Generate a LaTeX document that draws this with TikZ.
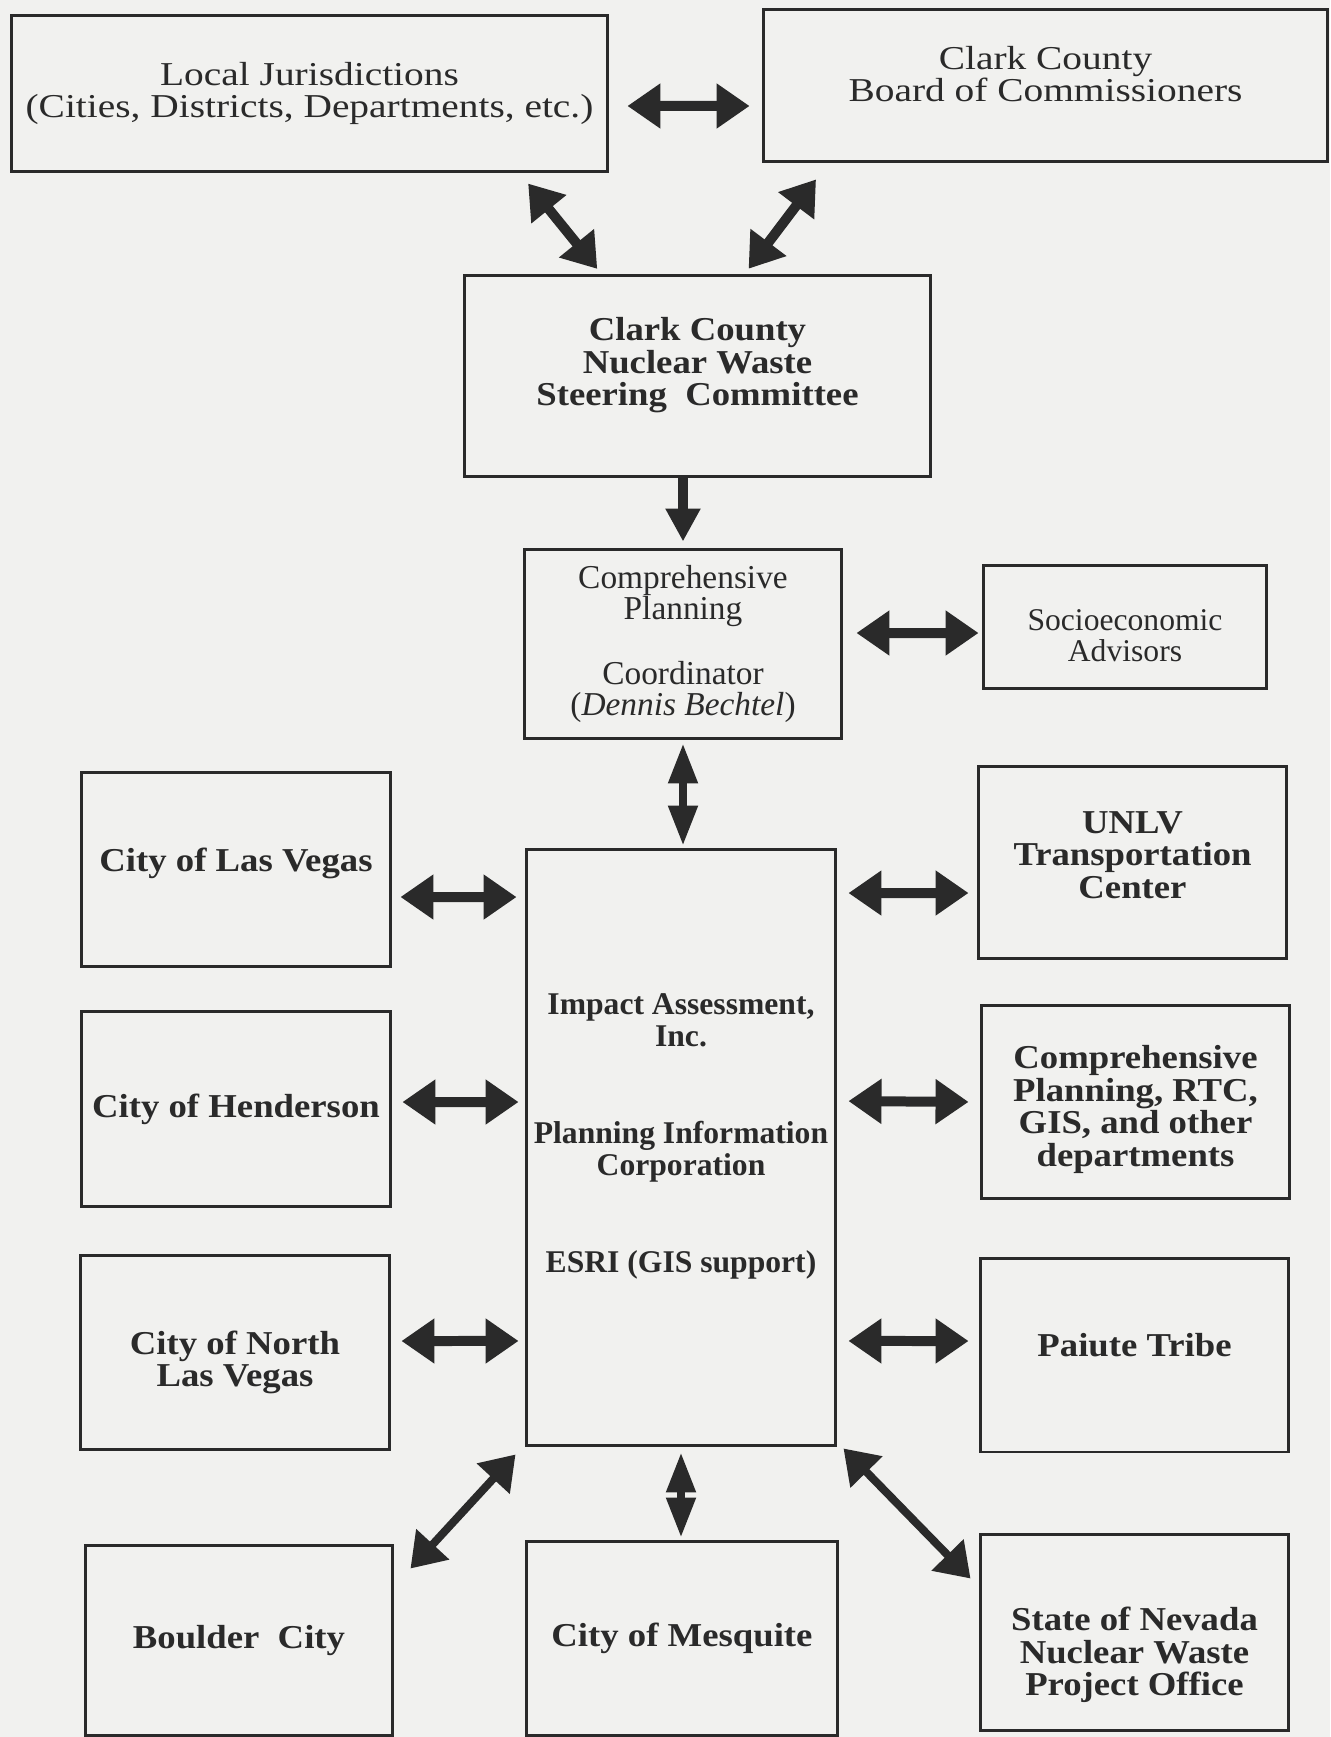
\documentclass[tikz,border=0pt]{standalone}
\usepackage{fontspec}
\setmainfont{Liberation Serif}
\newfontfamily\wideserif{Liberation Serif}[FakeStretch=1.1]
\newfontfamily\widerserif{Liberation Serif}[FakeStretch=1.18]
\usepackage{tikz}
\usetikzlibrary{arrows.meta}

\definecolor{paper}{RGB}{241,241,239}
\definecolor{ink}{RGB}{42,42,42}

% invisible struts that push a text block down or up inside its frame
\newcommand{\padtop}[1]{\rule{0pt}{#1}}
\newcommand{\padbot}[1]{\rule[-#1]{0pt}{#1}}

\begin{document}
\begin{tikzpicture}[x=0.02cm, y=-0.02cm,
    box/.style={draw=ink, line width=0.06cm, inner sep=0pt, align=center, text=ink}, % plain framed box
    plain/.style={font=\widerserif\fontsize{19}{18.5}\selectfont},          % regular text
    heavy/.style={font=\wideserif\fontsize{19}{18.5}\selectfont\bfseries}, % bold text
    dbl/.style={{Triangle[width=0.86cm,length=0.66cm]}-{Triangle[width=0.86cm,length=0.66cm]},
                line width=0.2cm, draw=ink},                    % two-way link
    slim/.style={{Triangle[width=0.56cm,length=0.8cm]}-{Triangle[width=0.56cm,length=0.8cm]},
                line width=0.16cm, draw=ink},                   % narrow vertical link
    down/.style={-{Triangle[width=0.66cm,length=0.66cm]}, line width=0.2cm, draw=ink}
    ]
    \fill[paper] (0,0) rectangle (1330,1737);
    \useasboundingbox (0,0) rectangle (1330,1737);

    % top level
    \node[box, plain, minimum width=11.94cm, minimum height=3.14cm] (loc) at (309.5,93.5)
        {Local Jurisdictions\\(Cities, Districts, Departments, etc.)};
    \node[box, plain, minimum width=11.30cm, minimum height=3.06cm] (brd) at (1045.5,85.5)
        {Clark County\\Board of Commissioners\padbot{0.46cm}};
    \node[box, heavy, minimum width=9.34cm, minimum height=4.04cm] (stc) at (697.5,376)
        {Clark County\\Nuclear Waste\\Steering\ \ Committee\padbot{0.58cm}};

    % coordinator and advisors
    \node[box, font=\fontsize{19}{18}\selectfont, minimum width=6.36cm, minimum height=3.80cm] (cpc) at (683,644)
        {Comprehensive\\Planning\\[0.66cm]Coordinator\\(\textit{Dennis Bechtel})};
    \node[box, font=\fontsize{18}{18}\selectfont, minimum width=5.68cm, minimum height=2.48cm] (soc) at (1125,627)
        {\padtop{0.77cm}Socioeconomic\\Advisors};

    % consultants
    \node[box, font=\fontsize{18}{18}\selectfont\bfseries, minimum width=6.20cm, minimum height=11.94cm] (ctr) at (681,1147.5)
        {Impact Assessment,\\Inc.\\[1.32cm]Planning Information\\Corporation\\[1.3cm]ESRI (GIS support)\padbot{0.58cm}};

    % left column
    \node[box, heavy, minimum width=6.20cm, minimum height=3.90cm] (lv) at (236,869.5) {City of Las Vegas\padbot{0.41cm}};
    \node[box, heavy, minimum width=6.20cm, minimum height=3.92cm] (hd) at (236,1109) {City of Henderson};
    \node[box, heavy, minimum width=6.20cm, minimum height=3.90cm] (nlv) at (235,1352.5) {\padtop{0.87cm}City of North\\Las Vegas};

    % right column
    \node[box, heavy, minimum width=6.18cm, minimum height=3.86cm] (unl) at (1132.5,862.5) {UNLV\\Transportation\\Center\padbot{0.3cm}};
    \node[box, heavy, minimum width=6.18cm, minimum height=3.88cm] (rtc) at (1135.5,1102)
        {\padtop{0.77cm}Comprehensive\\Planning, RTC,\\GIS, and other\\departments};
    \node[box, heavy, minimum width=6.18cm, minimum height=3.88cm] (pai) at (1134.5,1355) {Paiute Tribe\padbot{0.4cm}};

    % bottom row
    \node[box, heavy, minimum width=6.16cm, minimum height=3.80cm] (bou) at (239,1640) {Boulder\ \ City};
    \node[box, heavy, minimum width=6.24cm, minimum height=3.88cm] (mes) at (682,1638) {City of Mesquite};
    \node[box, heavy, minimum width=6.18cm, minimum height=3.92cm] (snv) at (1134.5,1632)
        {\padtop{1.39cm}State of Nevada\\Nuclear Waste\\Project Office};

    % links
    \draw[dbl, shorten <=0.36cm, shorten >=0.24cm] ([yshift=-0.25cm]loc.east) -- ([yshift=-0.41cm]brd.west);
    \draw[dbl, shorten <=0.26cm, shorten >=0.12cm] ([xshift=4.21cm]loc.south) -- ([xshift=-1.93cm]stc.north);
    \draw[dbl, shorten <=0.4cm, shorten >=0.12cm] ([xshift=-4.35cm]brd.south) -- ([xshift=0.95cm]stc.north);
    \draw[down, shorten >=0.12cm] (cpc.north |- stc.south) -- (cpc.north);
    \draw[dbl, shorten <=0.26cm, shorten >=0.06cm] ([yshift=0.22cm]cpc.east) -- ([yshift=-0.12cm]soc.west);
    \draw[slim, shorten <=0.06cm, shorten >=0.04cm] (cpc.south) -- (cpc.south |- ctr.north);

    \draw[dbl, shorten <=0.16cm, shorten >=0.16cm] ([yshift=-0.55cm]lv.east) -- ([yshift=5.01cm]ctr.west);
    \draw[dbl, shorten <=0.2cm, shorten >=0.12cm] ([yshift=0.14cm]hd.east) -- ([yshift=0.91cm]ctr.west);
    \draw[dbl, shorten <=0.2cm, shorten >=0.12cm] ([yshift=0.23cm]nlv.east) -- ([yshift=-3.87cm]ctr.west);

    \draw[dbl, shorten <=0.22cm, shorten >=0.16cm] ([yshift=5.09cm]ctr.east) -- ([yshift=-0.61cm]unl.west);
    \draw[dbl, shorten <=0.22cm, shorten >=0.22cm] ([yshift=0.93cm]ctr.east) -- (rtc.west);
    \draw[dbl, shorten <=0.22cm, shorten >=0.2cm] ([yshift=-3.87cm]ctr.east) -- ([yshift=0.28cm]pai.west);

    \draw[dbl, line width=0.16cm] ([xshift=-0.18cm, yshift=-0.14cm]ctr.south west) -- ([xshift=0.32cm, yshift=-0.5cm]bou.north east);
    \draw[slim, shorten <=0.1cm, shorten >=0.04cm] (ctr.south) -- (ctr.south |- mes.north);
    \draw[dbl, line width=0.16cm] ([xshift=0.12cm, yshift=-0.02cm]ctr.south east) -- ([xshift=-0.16cm, yshift=-0.92cm]snv.north west);
\end{tikzpicture}
\end{document}
